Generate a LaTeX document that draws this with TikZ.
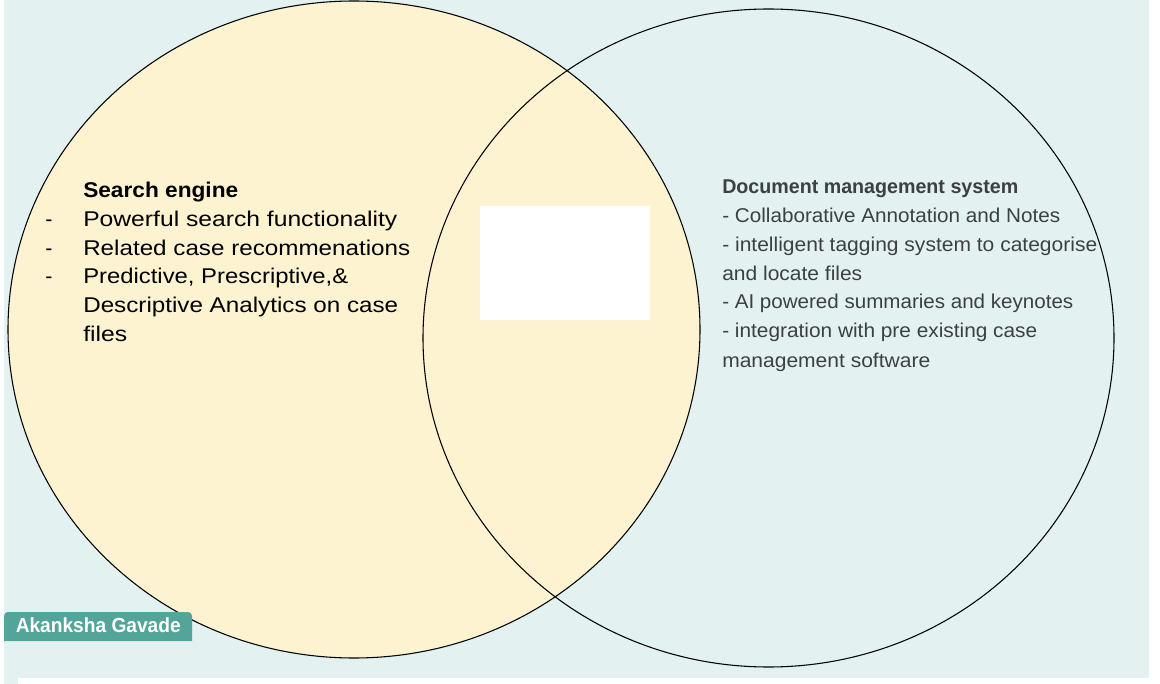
\documentclass[tikz,border=0pt]{standalone}
\usepackage{fontspec}
\setmainfont{Liberation Sans}
\usepackage{graphicx}
\definecolor{bgteal}{RGB}{227,241,241}
\definecolor{lyellow}{RGB}{254,243,208}
\definecolor{tagteal}{RGB}{82,165,152}
\definecolor{slate}{RGB}{60,64,67}
\newlength\fitlen
\newcommand\fitto[2]{\settowidth\fitlen{#2}\pgfmathsetmacro\fitr{#1*0.75/\fitlen}\scalebox{\fitr}[1]{#2}}
\tikzset{
  lt/.style={anchor=base west, inner sep=0pt, text=black, font=\fontsize{16pt}{18pt}\selectfont},
  rt/.style={anchor=base west, inner sep=0pt, text=slate, font=\fontsize{15pt}{18pt}\selectfont},
  tagtext/.style={anchor=base west, inner sep=0pt, text=white, font=\fontsize{15.3pt}{18pt}\selectfont\bfseries},
  ring/.style={draw=black, line width=0.8pt}
}
\begin{document}
\begin{tikzpicture}[x=0.75pt,y=-0.75pt]
\useasboundingbox (0,0) rectangle (1160,684);
% background
\fill[bgteal] (4,0) rectangle (1149,678);
\fill[bgteal] (4,678) rectangle (18,684);
% left set
\path[ring, fill=lyellow] (354,329.5) ellipse [x radius=346, y radius=328.5];
% white box in overlap
\fill[white] (480,206) rectangle (650,320);
% right set
\path[ring] (768.5,338) ellipse [x radius=345.5, y radius=329];
% left text
\node[lt] (lhead) at (83,198) {\fitto{155}{\bfseries Search engine}};
\node[lt] (ld1) at (45,227) {-};
\node[lt] (l1) at (83,227) {\fitto{314}{Powerful search functionality}};
\node[lt] (ld2) at (45,255.5) {-};
\node[lt] (l2) at (83,255.5) {\fitto{327}{Related case recommenations}};
\node[lt] (ld3) at (45,284) {-};
\node[lt] (l3) at (83,284) {\fitto{265}{Predictive, Prescriptive,\&}};
\node[lt] (l4) at (83,312.5) {\fitto{315}{Descriptive Analytics on case}};
\node[lt] (l5) at (83,341) {\fitto{44}{files}};
% right text
\node[rt] (rhead) at (722,194) {\fitto{296}{\bfseries Document management system}};
\node[rt] (r1) at (722,223) {\fitto{338}{- Collaborative Annotation and Notes}};
\node[rt] (r2) at (722,252) {\fitto{375}{- intelligent tagging system to categorise}};
\node[rt] (r3) at (722,280.5) {\fitto{140}{and locate files}};
\node[rt] (r4) at (722,309) {\fitto{351}{- AI powered summaries and keynotes}};
\node[rt] (r5) at (722,338) {\fitto{315}{- integration with pre existing case}};
\node[rt] (r6) at (722,367) {\fitto{208}{management software}};
% author tag
\fill[tagteal] (4,641) [rounded corners=3pt] -- (4,612) -- (192,612) [sharp corners] -- (192,641) -- cycle;
\node[tagtext] (tag) at (15.5,632) {\fitto{165}{Akanksha Gavade}};
\end{tikzpicture}
\end{document}
